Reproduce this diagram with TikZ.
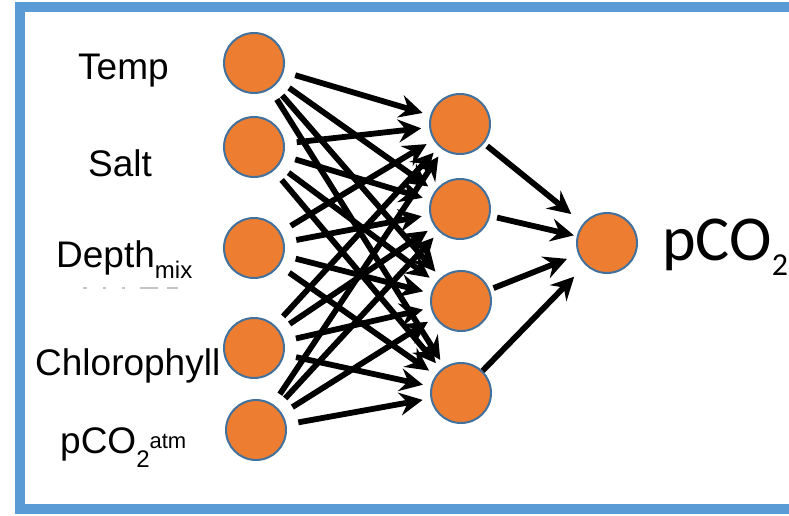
\documentclass[tikz,border=0pt]{standalone}
\usepackage{fontspec}
\setmainfont{Liberation Sans}
\newfontfamily\carl{Carlito}
\usetikzlibrary{arrows.meta}
\definecolor{nodeorange}{HTML}{ED7D31}
\definecolor{nodeblue}{HTML}{41719C}
\definecolor{frameblue}{HTML}{5B9BD5}
\definecolor{ghostgray}{HTML}{C4C4C4}
\begin{document}
\begin{tikzpicture}[x=1pt,y=-1pt,
  neuron/.style={circle,fill=nodeorange,draw=nodeblue,line width=2pt,minimum size=60pt,inner sep=0pt},
  lab/.style={anchor=base west,inner sep=0pt,font=\fontsize{37}{37}\selectfont},
  conn/.style={line width=5.8pt,-{Stealth[length=23pt,width=23pt,inset=8pt]},shorten <=12pt,shorten >=8pt},
  outconn/.style={line width=5.8pt,-{Stealth[length=23pt,width=23pt,inset=8pt]}}
]
\useasboundingbox (0,0) rectangle (789,516);
\clip (0,0) rectangle (789,516);
\fill[white] (0,0) rectangle (789,516);
\draw[frameblue,line width=10pt] (20,7) rectangle (830,508.5);

% faint clipped remnant under Depth label
\foreach \a/\b in {83/87,103/106,122/125,140/158,167/178}
  \draw[ghostgray,line width=2pt] (\a,287.5) -- (\b,287.5);

% nodes
\node[neuron] (in1) at (254,63) {};
\node[neuron] (in2) at (254,147) {};
\node[neuron] (in3) at (254,248) {};
\node[neuron] (in4) at (254,348) {};
\node[neuron] (in5) at (256,430) {};
\node[neuron] (h1) at (460,124) {};
\node[neuron] (h2) at (460,209) {};
\node[neuron] (h3) at (461,301) {};
\node[neuron] (h4) at (461,393) {};
\node[neuron] (out) at (607,243) {};

% labels
\node[lab] (lt) at (78,80) {Temp};
\node[lab] (ls) at (88,176) {Salt};
\node[lab] (ld) at (56,267) {Depth\raisebox{-11pt}{\fontsize{24}{24}\selectfont mix}};
\node[lab] (lc) at (35,375) {Chlorophyll};
\node[lab] (la) at (60,453) {pCO\raisebox{-14pt}{\fontsize{24}{24}\selectfont 2}\raisebox{5pt}{\fontsize{22}{22}\selectfont atm}};
\node[anchor=base west,inner sep=0pt,font=\carl\fontsize{64}{64}\selectfont] (lo) at (662,260) {pCO\raisebox{-15pt}{\fontsize{32}{32}\selectfont 2}};

% input -> hidden
\foreach \i in {in1,in2,in3,in4,in5}
  \foreach \h in {h1,h2,h3,h4}
    \draw[conn] (\i) -- (\h);

% hidden -> output
\draw[outconn,shorten <=4pt,shorten >=15pt] (h1) -- (out);
\draw[outconn,shorten <=7pt,shorten >=3pt] (h2) -- (out);
\draw[outconn,shorten <=4pt,shorten >=12pt] (h3) -- (out);
\draw[outconn,shorten <=0pt,shorten >=16pt] (h4) -- (out);
\end{tikzpicture}
\end{document}
